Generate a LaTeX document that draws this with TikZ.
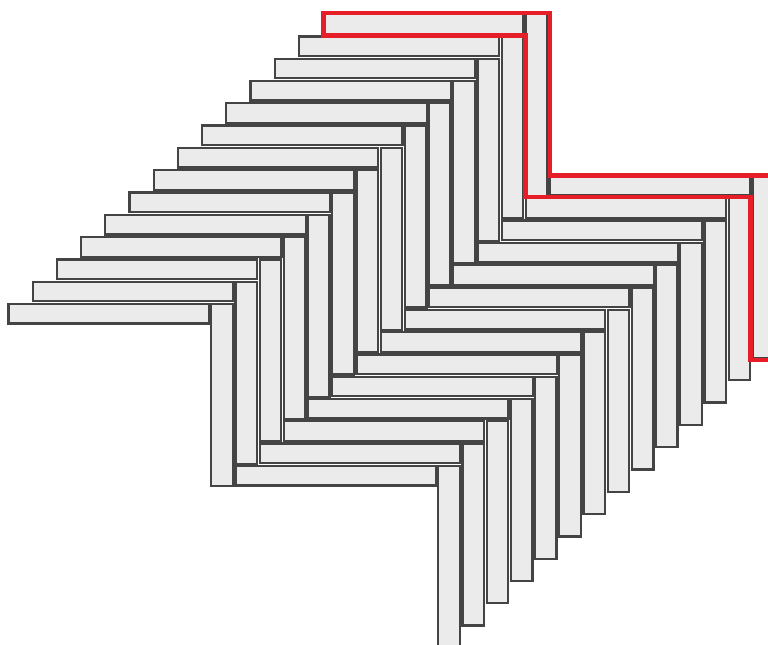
\documentclass[tikz,border=0pt]{standalone}
\usepackage{tikz}
\definecolor{tilefill}{HTML}{EBEBEB}
\definecolor{tileedge}{HTML}{444444}
\definecolor{markred}{HTML}{E61E27}
\tikzset{tile/.style={draw=tileedge,fill=tilefill,line width=2.3pt},redline/.style={draw=markred,line width=4.6pt,line join=miter}}
\newcommand{\hlen}{8.28}
\newcommand{\vlen}{8.16}

\begin{document}
\begin{tikzpicture}[x=24.2pt,y=22.3pt]
\useasboundingbox (-0.351,-15.291) rectangle (31.385,13.632);
\clip (-0.351,-15.291) rectangle (31.385,13.632);
% two chains of horizontal tiles, each with its vertical tile
\foreach \c in {0,1}{
\foreach \i in {0,...,13}{
\pgfmathsetmacro{\u}{\i+9.38*\c}
\pgfmathsetmacro{\v}{\i-7.26*\c}
\draw[tile] (\u,\v) rectangle ++(\hlen,-0.88);
\draw[tile] ({\u+\hlen+0.1},\v) rectangle ++(0.89,-\vlen);}}
% marked repeat unit
\draw[redline] (32,5.76) -- (22.38,5.76) -- (22.38,13.05) -- (13.02,13.05) -- (13.02,12.04) -- (21.36,12.04) -- (21.36,4.80) -- (30.66,4.80) -- (30.66,-2.51) -- (32,-2.51);
\end{tikzpicture}
\end{document}
